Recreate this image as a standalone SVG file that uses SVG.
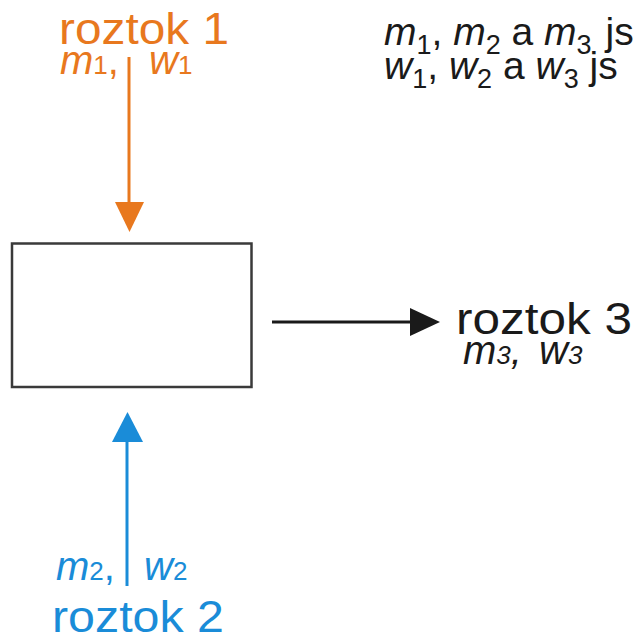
<svg xmlns="http://www.w3.org/2000/svg" width="634" height="639" viewBox="0 0 634 639">
<style>
text{font-family:"Liberation Sans",Arial,sans-serif}
.or{fill:#E8781E}
.bl{fill:#1A8CD8}
.bk{fill:#1a1a1a}
.it{font-style:italic}
.sb{font-size:26px;font-style:normal}
</style>
<rect width="634" height="639" fill="#ffffff"/>
<g id="process">
<rect x="12" y="243.5" width="239.5" height="143.5" fill="none" stroke="#3a3a3a" stroke-width="2.5"/>
</g>
<g id="connectors">
<line x1="129" y1="57" x2="129" y2="205" stroke="#E8781E" stroke-width="3"/>
<polygon points="115,202 144,202 129.5,232" fill="#E8781E"/>
<line x1="127" y1="440" x2="127" y2="586" stroke="#1A8CD8" stroke-width="3"/>
<polygon points="112,442 143,442 127.5,412" fill="#1A8CD8"/>
<line x1="272" y1="322" x2="412" y2="322" stroke="#1a1a1a" stroke-width="3"/>
<polygon points="410,308 410,336 440,322" fill="#1a1a1a"/>
</g>
<g id="roztok1">
<text x="59" y="44" font-size="45" class="or" textLength="170" lengthAdjust="spacingAndGlyphs">roztok 1</text>
<text x="60" y="74" font-size="40" class="or"><tspan class="it">m</tspan><tspan class="sb">1</tspan>,</text>
<text x="149" y="74" font-size="40" class="or"><tspan class="it">w</tspan><tspan class="sb">1</tspan></text>
</g>
<g id="roztok2">
<text x="56" y="580" font-size="40" class="bl"><tspan class="it">m</tspan><tspan class="sb">2</tspan>,</text>
<text x="144" y="580" font-size="40" class="bl"><tspan class="it">w</tspan><tspan class="sb">2</tspan></text>
<text x="52" y="632" font-size="45" class="bl" textLength="172" lengthAdjust="spacingAndGlyphs">roztok 2</text>
</g>
<g id="roztok3">
<text x="456" y="334" font-size="45" class="bk" textLength="176" lengthAdjust="spacingAndGlyphs">roztok 3</text>
<text x="463" y="364" font-size="40" class="bk it">m<tspan font-size="26">3</tspan>,</text>
<text x="539" y="364" font-size="40" class="bk it">w<tspan font-size="26">3</tspan></text>
</g>
<g id="note">
<text x="384" y="45" font-size="39" class="bk"><tspan class="it">m</tspan><tspan font-size="27" dy="9">1</tspan><tspan dy="-9">, </tspan><tspan class="it">m</tspan><tspan font-size="27" dy="9">2</tspan><tspan dy="-9"> a </tspan><tspan class="it">m</tspan><tspan font-size="27" dy="9">3</tspan><tspan dy="-9" dx="3"> js</tspan></text>
<text x="384" y="79" font-size="39" class="bk"><tspan class="it">w</tspan><tspan font-size="27" dy="9">1</tspan><tspan dy="-9">, </tspan><tspan class="it">w</tspan><tspan font-size="27" dy="9">2</tspan><tspan dy="-9"> a </tspan><tspan class="it">w</tspan><tspan font-size="27" dy="9">3</tspan><tspan dy="-9"> js</tspan></text>
</g>
</svg>
